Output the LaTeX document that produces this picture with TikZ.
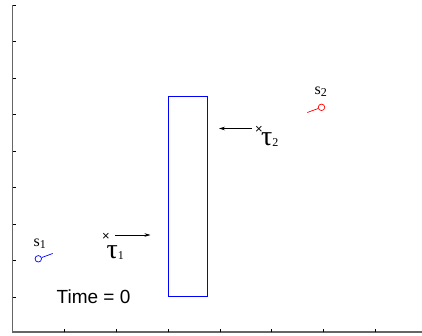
\documentclass[tikz,border=0pt]{standalone}
\usepackage{fontspec}
\usetikzlibrary{arrows.meta}
\setmainfont{Liberation Serif}
\newfontfamily\helv{Liberation Sans}
\begin{document}
\begin{tikzpicture}[x=1pt,y=-1pt,
  axis/.style={draw=gray!80!black,line width=1.2pt},
  tick/.style={draw=black,line width=0.6pt},
  lbl/.style={inner sep=0pt,anchor=base west,font=\fontsize{16}{16}\selectfont},
  taul/.style={inner sep=0pt,anchor=base west,text height=9pt,text depth=2pt,font=\fontsize{28}{28}\selectfont},
  cross/.style={inner sep=0pt,anchor=base,text height=6pt,text depth=0pt,font=\helv\fontsize{13}{13}\selectfont},
  arr/.style={draw=black,line width=0.5pt,-{Stealth[length=6pt,width=3.5pt]}}]
\useasboundingbox (0,0) rectangle (422,336);
% axes
\coordinate (o) at (12.7,332);
\coordinate (top) at (12.7,5);
\coordinate (right) at (422,332);
\draw[axis] (top) -- (o) -- (right);
\foreach \y in {5,41.5,78,114.5,151,187.5,224,260.5,297}
  \draw[tick] (12.7,\y) -- (16,\y);
\foreach \x in {64.5,116.3,168,219.9,271.7,323.5,375.3}
  \draw[tick] (\x,332) -- (\x,328.5);
% rectangle
\node[draw=blue,line width=0.8pt,minimum width=39pt,minimum height=200pt,inner sep=0pt] (box) at (187.5,196) {};
% s1
\node[draw=blue,circle,minimum size=6.5pt,inner sep=0pt,line width=0.7pt] (c1) at (38.3,258.8) {};
\coordinate (e1) at (52.7,253.5);
\draw[blue,line width=0.7pt] (c1) -- (e1);
\node[lbl] (s1) at (33.5,246.7) {s\raisebox{-2pt}{\fontsize{12}{12}\selectfont 1}};
% s2
\node[draw=red,circle,minimum size=6.5pt,inner sep=0pt,line width=0.7pt] (c2) at (321.5,107.3) {};
\coordinate (e2) at (307.3,112.5);
\draw[red,line width=0.7pt] (c2) -- (e2);
\node[lbl] (s2) at (314.5,95) {s\raisebox{-2pt}{\fontsize{12}{12}\selectfont 2}};
% tau1
\node[cross] (x1) at (106,240.5) {×};
\coordinate (a1) at (150.5,235);
\coordinate (b1) at (115,235);
\draw[arr] (b1) -- (a1);
\node[taul] (t1) at (106.5,258.5) {τ\raisebox{-1pt}{\fontsize{12}{12}\selectfont 1}};
% tau2
\node[cross] (x2) at (259,134) {×};
\coordinate (a2) at (219,128.5);
\coordinate (b2) at (252,128.5);
\draw[arr] (b2) -- (a2);
\node[taul] (t2) at (261,146) {τ\raisebox{-1pt}{\fontsize{12}{12}\selectfont 2}};
% time
\node[inner sep=0pt,font=\helv\fontsize{19}{19}\selectfont] (time) at (93.5,297) {Time = 0};
\end{tikzpicture}
\end{document}
